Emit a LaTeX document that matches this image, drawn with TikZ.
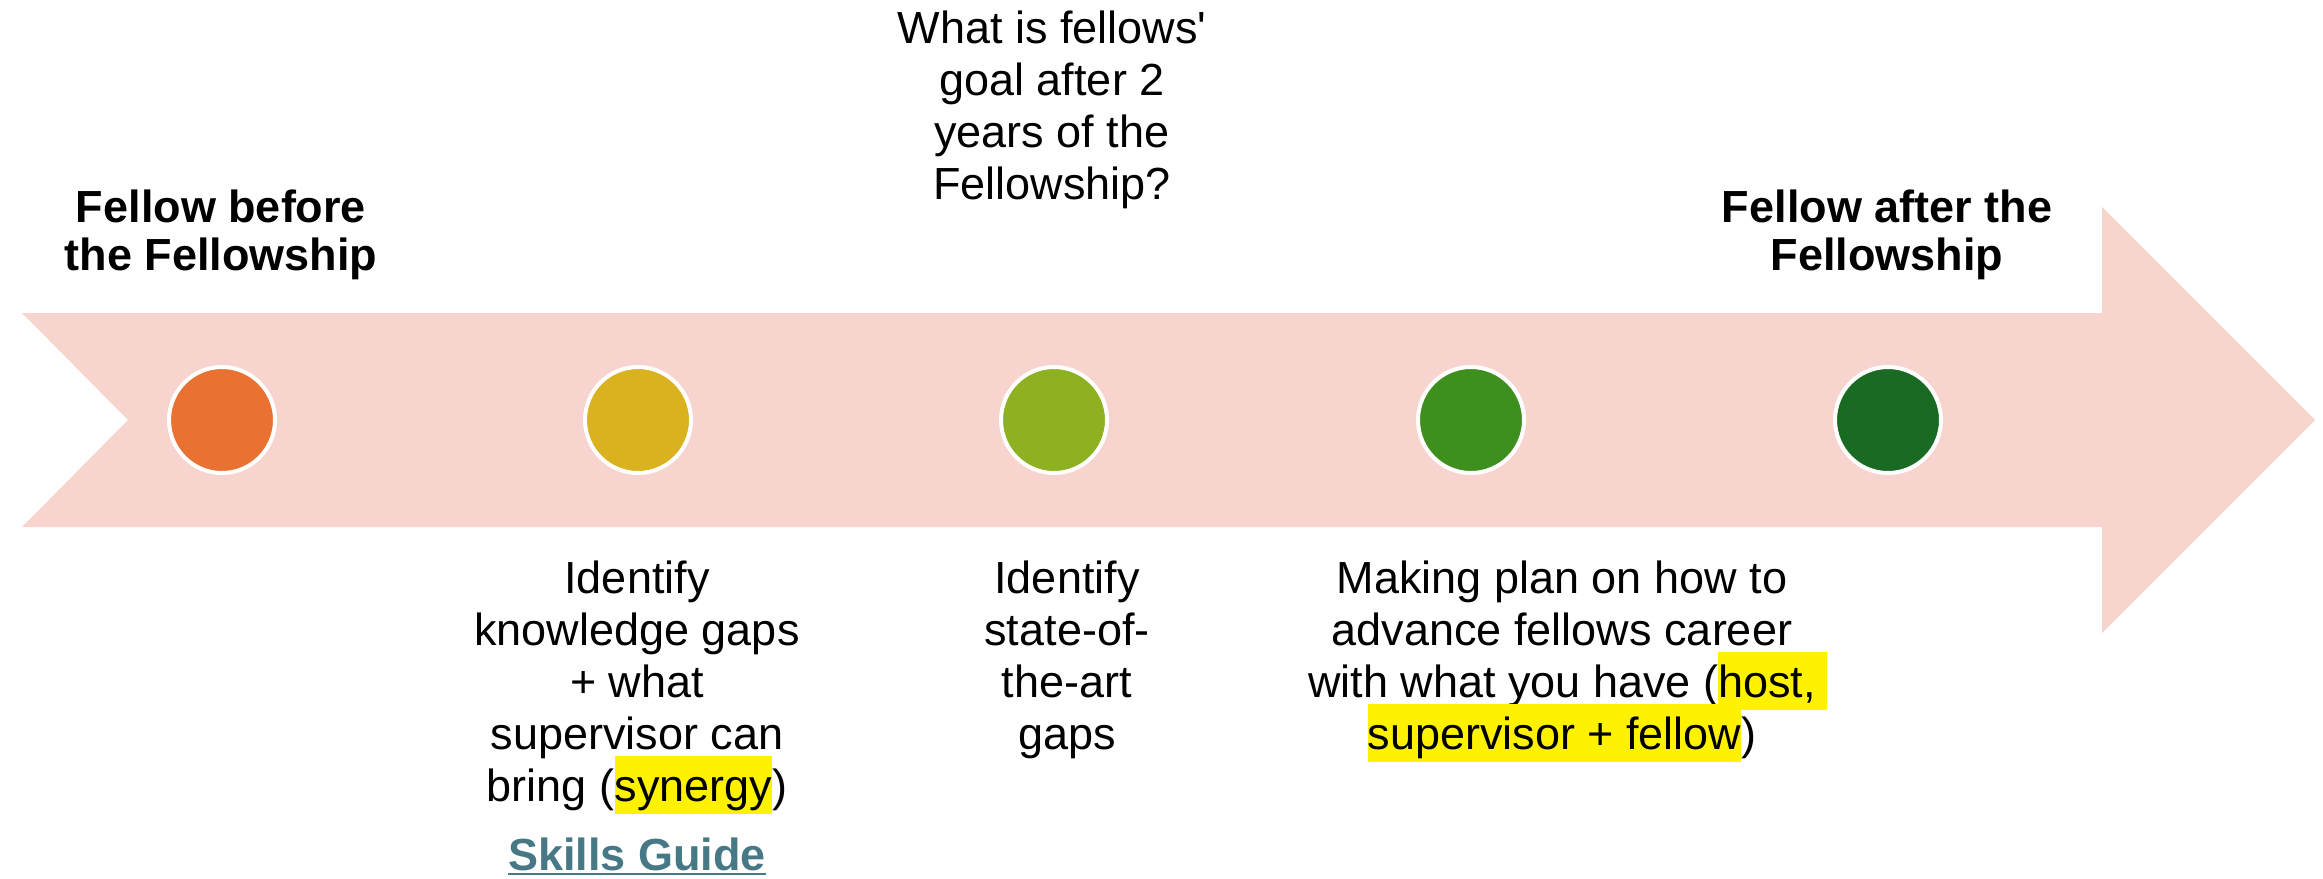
\documentclass[tikz,border=0pt]{standalone}
\usepackage{fontspec}
\setmainfont{Liberation Sans}
\definecolor{arrowpink}{HTML}{F7D5CE}
\definecolor{dotA}{HTML}{E97132}
\definecolor{dotB}{HTML}{DAB11E}
\definecolor{dotC}{HTML}{8DB120}
\definecolor{dotD}{HTML}{3F8F1E}
\definecolor{dotE}{HTML}{196B24}
\definecolor{linkcol}{HTML}{467886}
\newcommand\hlmark[1]{{\setlength\fboxsep{0pt}\smash{\colorbox{yellow}{\rule[-13pt]{0pt}{58pt}#1}}}}
\newcommand\hlgap[1]{\smash{\rlap{\color{yellow}\rule[-13pt]{#1}{58pt}}}}
\newcommand\ulink[1]{\setbox0\hbox{#1}\rlap{\rule[-5pt]{\wd0}{2.5pt}}\box0}
\newcommand\firstline{\rule{0pt}{40pt}}
\tikzset{
  band/.style={fill=arrowpink, draw=none},
  dot/.style={circle, draw=white, line width=4pt, minimum size=106pt, inner sep=0pt},
  body/.style={align=center, inner sep=0pt, anchor=north, font=\fontsize{45}{52}\selectfont},
  titletext/.style={align=center, inner sep=0pt, anchor=north, font=\fontsize{45}{48}\selectfont\bfseries},
  linktext/.style={inner sep=0pt, anchor=north, text=linkcol, font=\fontsize{45}{52}\selectfont\bfseries},
}
\begin{document}
\begin{tikzpicture}[x=1pt, y=-1pt]
\useasboundingbox (0,0) rectangle (2323,878);
% big arrow band
\fill[band] (22,313) -- (2102,313) -- (2102,207) -- (2315,420) -- (2102,633)
  -- (2102,527) -- (22,527) -- (128,420) -- cycle;
% milestone dots
\node[dot, fill=dotA] (d1) at (222,420) {};
\node[dot, fill=dotB] (d2) at (638,420) {};
\node[dot, fill=dotC] (d3) at (1054,420) {};
\node[dot, fill=dotD] (d4) at (1471,420) {};
\node[dot, fill=dotE] (d5) at (1888,420) {};
% titles
\node[titletext] (before) at (221,182) {\firstline Fellow before\\the Fellowship};
\node[titletext] (after) at (1887,182) {\firstline Fellow after the\\Fellowship};
% question
\node[body] (question) at (1052,3) {\firstline What is fellows\textquotesingle\\goal after 2\\years of the\\Fellowship?};
% lower texts
\node[body] (knowledge) at (637,553) {\firstline Identify\\knowledge gaps\\+ what\\supervisor can\\bring (\hlmark{synergy})};
\node[linktext] (skills) at (637,830) {\firstline\ulink{Skills Guide}};
\node[body] (state) at (1067,553) {\firstline Identify\\state-of-\\the-art\\gaps};
\node[body] (plan) at (1562,553) {\firstline Making plan on how to\\advance fellows career\\with what you have (\hlmark{host,}\hlgap{11pt}\\\hlmark{supervisor + fellow})};
\end{tikzpicture}
\end{document}
